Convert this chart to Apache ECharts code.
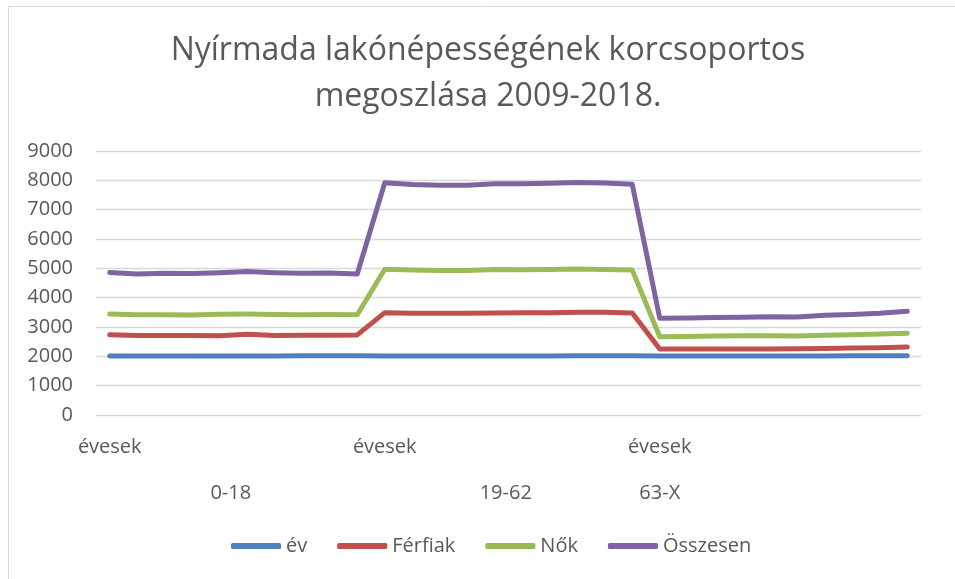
<!DOCTYPE html>
<html>
<head>
<meta charset="utf-8">
<script src="https://cdn.jsdelivr.net/npm/echarts@6/dist/echarts.min.js"></script>
<style>
  html, body { margin: 0; padding: 0; background: #fff; }
  #chart { width: 955px; height: 579px; }
</style>
</head>
<body>
<div id="chart"></div>
<script>
// age groups and years (one category per group / year)
const ageGroups = ['0-18', '19-62', '63-X'];
const years = [2009, 2010, 2011, 2012, 2013, 2014, 2015, 2016, 2017, 2018];
const groupWord = 'évesek';

// series values (stacked line, like the original sheet)
const evData = [
  2009, 2010, 2011, 2012, 2013, 2014, 2015, 2016, 2017, 2018,
  2009, 2010, 2011, 2012, 2013, 2014, 2015, 2016, 2017, 2018,
  2009, 2010, 2011, 2012, 2013, 2014, 2015, 2016, 2017, 2018
];
const ferfiakData = [
  730, 700, 700, 698, 688, 735, 695, 704, 703, 712,
  1481, 1460, 1459, 1458, 1467, 1476, 1475, 1484, 1483, 1462,
  241, 240, 239, 238, 237, 246, 255, 264, 273, 302
];
const nokData = [
  700, 710, 710, 700, 730, 690, 720, 700, 710, 690,
  1480, 1470, 1460, 1460, 1480, 1460, 1470, 1480, 1460, 1460,
  420, 430, 440, 450, 450, 430, 450, 460, 470, 470
];
const osszesenData = [
  1420, 1390, 1410, 1410, 1420, 1450, 1420, 1410, 1410, 1390,
  2950, 2920, 2900, 2900, 2920, 2930, 2940, 2950, 2950, 2930,
  630, 630, 630, 630, 650, 650, 680, 690, 710, 750
];

const seriesNames = ['év', 'Férfiak', 'Nők', 'Összesen'];
const colors = ['#4F81BD', '#C0504D', '#9BBB59', '#8064A2'];
const titleText = 'Nyírmada lakónépességének korcsoportos\nmegoszlása 2009-2018.';

// category list: group + year
let categories = [];
ageGroups.forEach(function (g) {
  years.forEach(function (y) {
    categories.push(g + ' ' + groupWord + ' ' + y);
  });
});

// where Excel put the group names on the second label row
const groupLabelAt = [4.4, 14.4, 20];

let chart = echarts.init(document.getElementById('chart'));
const font = 'Open Sans';
const textColor = '#595959';

function lineSeries(name, data, color) {
  return {
    name: name,
    type: 'line',
    stack: 'total',
    data: data,
    showSymbol: false,
    symbol: 'none',
    color: color,
    lineStyle: { width: 5, color: color, cap: 'round', join: 'round' },
    animation: false
  };
}

let option = {
  animation: false,
  graphic: [{
    type: 'rect',
    shape: { x: 8.5, y: 6.5, width: 1000, height: 700 },
    style: { fill: 'none', stroke: '#D9D9D9', lineWidth: 1 },
    silent: true
  }, {
    // chart title
    type: 'text',
    x: 488,
    y: 28,
    style: {
      text: titleText,
      textAlign: 'center',
      fontFamily: font,
      fontSize: 32,
      lineHeight: 46,
      fill: textColor
    },
    silent: true
  }],
  legend: {
    left: 226,
    top: 531,
    icon: 'roundRect',
    itemWidth: 50,
    itemHeight: 6,
    itemGap: 30,
    textStyle: { fontFamily: font, fontSize: 20, color: textColor },
    data: seriesNames
  },
  grid: {
    left: 96,
    right: 34,
    top: 151,
    bottom: 164
  },
  xAxis: [{
    type: 'category',
    data: categories,
    boundaryGap: true,
    axisLine: { show: true, lineStyle: { color: '#D9D9D9', width: 1 } },
    axisTick: { show: false },
    axisLabel: {
      interval: 9,
      margin: 22,
      fontFamily: font,
      fontSize: 20,
      color: textColor,
      formatter: function () { return groupWord; }
    }
  }, {
    type: 'value',
    position: 'bottom',
    min: -0.5,
    max: 29.5,
    axisLine: { show: false },
    axisTick: { show: false },
    splitLine: { show: false },
    axisLabel: {
      customValues: groupLabelAt,
      margin: 68,
      fontFamily: font,
      fontSize: 20,
      color: textColor,
      formatter: function (v) {
        let i = groupLabelAt.indexOf(v);
        return i >= 0 ? ageGroups[i] : '';
      }
    }
  }],
  yAxis: {
    type: 'value',
    min: 0,
    max: 9000,
    interval: 1000,
    axisLine: { show: false },
    axisTick: { show: false },
    splitLine: { lineStyle: { color: '#D9D9D9', width: 1.3 } },
    axisLabel: {
      margin: 23,
      fontFamily: font,
      fontSize: 20,
      color: textColor,
      formatter: function (v) { return String(v); }
    }
  },
  series: [
    lineSeries(seriesNames[0], evData, colors[0]),
    lineSeries(seriesNames[1], ferfiakData, colors[1]),
    lineSeries(seriesNames[2], nokData, colors[2]),
    lineSeries(seriesNames[3], osszesenData, colors[3])
  ]
};

chart.setOption(option);
</script>
</body>
</html>
